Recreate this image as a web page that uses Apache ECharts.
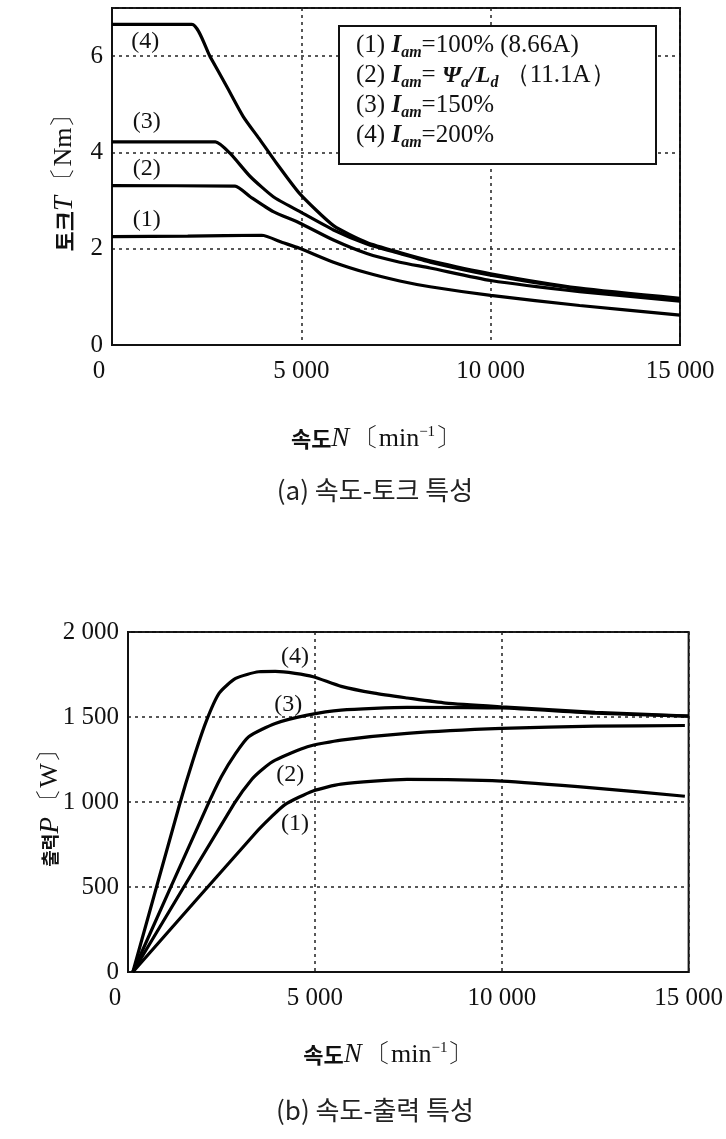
<!DOCTYPE html>
<html>
<head>
<meta charset="utf-8">
<script src="https://cdn.jsdelivr.net/npm/echarts@6/dist/echarts.min.js"></script>
<style>
html, body { margin: 0; padding: 0; background: #fff; }
#chart { width: 726px; height: 1139px; }
</style>
</head>
<body>
<div id="chart"></div>
<script>
// axis ranges
const speedMax = 15000
const speedStep = 5000
const torqueMax = 7
const torqueStep = 2
const powerMax = 2000
const powerStep = 500

const curveNames = ['(1)', '(2)', '(3)', '(4)']

// (a) speed [min^-1] vs torque [Nm]
const torque1 = [[0, 2.25], [2000, 2.26], [3950, 2.28], [4500, 2.13], [4950, 2.01], [5850, 1.72], [6730, 1.50], [7600, 1.33], [8400, 1.21], [10000, 1.03], [12350, 0.82], [15000, 0.62]]
const torque2 = [[0, 3.31], [3250, 3.30], [3650, 3.08], [4260, 2.77], [4940, 2.54], [5850, 2.18], [6730, 1.90], [7600, 1.72], [8400, 1.60], [10000, 1.34], [12350, 1.11], [15000, 0.91]]
const torque3 = [[0, 4.22], [2730, 4.22], [3120, 3.98], [3650, 3.50], [4260, 3.08], [4940, 2.78], [5850, 2.39], [6730, 2.10], [7600, 1.90], [8400, 1.72], [10000, 1.45], [12350, 1.16], [15000, 0.93]]
const torque4 = [[0, 6.66], [2110, 6.66], [2590, 5.99], [3030, 5.37], [3470, 4.74], [3910, 4.26], [4350, 3.77], [4950, 3.15], [5850, 2.48], [6730, 2.13], [7600, 1.92], [8400, 1.75], [10000, 1.48], [12350, 1.18], [15000, 0.97]]

// (b) speed [min^-1] vs power [W]
const power1 = [[130, 0], [3400, 815], [3800, 905], [4200, 985], [4950, 1065], [5700, 1105], [7470, 1133], [10000, 1123], [12500, 1082], [14900, 1034]]
const power2 = [[130, 0], [2840, 990], [3320, 1135], [3640, 1200], [3940, 1246], [4800, 1325], [5700, 1364], [7470, 1404], [10000, 1433], [12500, 1446], [14900, 1450]]
const power3 = [[130, 0], [2085, 960], [2500, 1150], [2880, 1286], [3230, 1384], [3940, 1462], [4800, 1511], [5700, 1541], [7470, 1557], [10000, 1553], [12500, 1522], [15000, 1505]]
const power4 = [[130, 0], [1380, 985], [1730, 1240], [2085, 1470], [2440, 1640], [2880, 1727], [3500, 1766], [3940, 1768], [4470, 1757], [4956, 1737], [5706, 1680], [6590, 1640], [7470, 1612], [8500, 1582], [10000, 1560], [12500, 1528], [15000, 1505]]

const legendLines = [
  '{n|(1) }{i|I}{s|am}{n|=100% (8.66A)}',
  '{n|(2) }{i|I}{s|am}{n|= }{g|Ψ}{s|a}{g|/L}{s|d}{n| （11.1A）}',
  '{n|(3) }{i|I}{s|am}{n|=150%}',
  '{n|(4) }{i|I}{s|am}{n|=200%}',
]

const serif = 'Liberation Serif'
const kr = 'Noto Sans CJK KR'
const ink = '#111'

function thousands(v) {
  if (v === 0) return '{z|0}'
  const s = String(v)
  return s.length > 3 ? s.slice(0, -3) + ' ' + s.slice(-3) : s
}

const gridLine = { show: true, lineStyle: { color: '#222', width: 1.5, type: [3, 4] } }
const tickFont = { fontFamily: serif, fontSize: 25, color: ink }

function xAxisFor(gridIndex, gap) {
  return {
    type: 'value', gridIndex, min: 0, max: speedMax, interval: speedStep,
    axisLine: { show: true, lineStyle: { color: ink, width: 2 } },
    axisTick: { show: false },
    splitLine: gridLine,
    axisLabel: {
      ...tickFont, margin: 14, formatter: thousands,
      rich: { z: { padding: [0, 26, 0, 0] } },
    },
    name: '{k|속도}{i|N} {u|〔min}{p|−1}{u|〕}',
    nameLocation: 'middle',
    nameGap: gap,
    nameMoveOverlap: false,
    nameTextStyle: {
      padding: [0, 40, 0, 0],
      rich: {
        k: { fontFamily: kr, fontSize: 22, fontWeight: 'bold', color: ink },
        i: { fontFamily: serif, fontSize: 27, fontStyle: 'italic', color: ink },
        u: { fontFamily: serif, fontSize: 26, color: ink },
        p: { fontFamily: serif, fontSize: 15, color: ink, verticalAlign: 'top', lineHeight: 28 },
      },
    },
  }
}

function lineSeries(data, xi, yi) {
  return {
    type: 'line', xAxisIndex: xi, yAxisIndex: yi, data,
    showSymbol: false, smooth: 0.2,
    lineStyle: { color: '#000', width: 3.2 },
    silent: true,
  }
}

function tag(text, coord) {
  return {
    coord, value: text,
    label: { show: true, formatter: text, fontFamily: serif, fontSize: 24, color: ink },
  }
}

const markStyle = { symbol: 'circle', symbolSize: 1, itemStyle: { color: 'rgba(0,0,0,0)' }, silent: true }

const option = {
  animation: false,
  backgroundColor: '#fff',
  grid: [
    { left: 112, right: 46, top: 8, bottom: 794, show: true, borderColor: ink, borderWidth: 2 },
    { left: 128, right: 32, top: 632, bottom: 167, show: true, borderColor: ink, borderWidth: 2 },
  ],
  xAxis: [xAxisFor(0, 80), xAxisFor(1, 69)],
  yAxis: [
    {
      type: 'value', gridIndex: 0, min: 0, max: torqueMax, interval: torqueStep,
      axisLine: { show: true, lineStyle: { color: ink, width: 2 } },
      axisTick: { show: false },
      splitLine: gridLine,
      axisLabel: { ...tickFont, margin: 9, showMaxLabel: false },
      name: '{k|토크}{i|T} {u|〔Nm〕}',
      nameLocation: 'middle', nameRotate: 90, nameGap: 34,
      nameMoveOverlap: false,
      nameTextStyle: {
        rich: {
          k: { fontFamily: kr, fontSize: 22, fontWeight: 'bold', color: ink },
          i: { fontFamily: serif, fontSize: 27, fontStyle: 'italic', color: ink },
          u: { fontFamily: serif, fontSize: 26, color: ink },
        },
      },
    },
    {
      type: 'value', gridIndex: 1, min: 0, max: powerMax, interval: powerStep,
      axisLine: { show: true, lineStyle: { color: ink, width: 2 } },
      axisTick: { show: false },
      splitLine: gridLine,
      axisLabel: { ...tickFont, margin: 9, formatter: (v) => thousands(v).replace('{z|0}', '0') },
      name: '{k|출력}{i|P} {u|〔W〕}',
      nameLocation: 'middle', nameRotate: 90, nameGap: 64,
      nameMoveOverlap: false,
      nameTextStyle: {
        rich: {
          k: { fontFamily: kr, fontSize: 18, fontWeight: 'bold', color: ink },
          i: { fontFamily: serif, fontSize: 27, fontStyle: 'italic', color: ink },
          u: { fontFamily: serif, fontSize: 26, color: ink },
        },
      },
    },
  ],
  series: [
    { ...lineSeries(torque1, 0, 0), markPoint: { ...markStyle, data: [tag(curveNames[0], [920, 2.6])] } },
    { ...lineSeries(torque2, 0, 0), markPoint: { ...markStyle, data: [tag(curveNames[1], [920, 3.67])] } },
    { ...lineSeries(torque3, 0, 0), markPoint: { ...markStyle, data: [tag(curveNames[2], [920, 4.64])] } },
    { ...lineSeries(torque4, 0, 0), markPoint: { ...markStyle, data: [tag(curveNames[3], [880, 6.3])] } },
    { ...lineSeries(power1, 1, 1), markPoint: { ...markStyle, data: [tag(curveNames[0], [4470, 874])] } },
    { ...lineSeries(power2, 1, 1), markPoint: { ...markStyle, data: [tag(curveNames[1], [4340, 1158])] } },
    { ...lineSeries(power3, 1, 1), markPoint: { ...markStyle, data: [tag(curveNames[2], [4290, 1570])] } },
    { ...lineSeries(power4, 1, 1), markPoint: { ...markStyle, data: [tag(curveNames[3], [4470, 1855])] } },
  ],
  graphic: [
    {
      type: 'rect', left: 338, top: 25, z: 10,
      shape: { width: 317, height: 138 },
      style: { fill: '#fff', stroke: ink, lineWidth: 2 },
    },
    {
      type: 'text', left: 356, top: 33, z: 11,
      style: {
        text: legendLines.join('\n'),
        rich: {
          n: { fontFamily: serif, fontSize: 25, fill: ink, lineHeight: 30 },
          i: { fontFamily: serif, fontSize: 25, fontStyle: 'italic', fontWeight: 'bold', fill: ink, lineHeight: 30 },
          g: { fontFamily: serif, fontSize: 24, fontStyle: 'italic', fontWeight: 'bold', fill: ink, lineHeight: 30 },
          s: { fontFamily: serif, fontSize: 16, fontStyle: 'italic', fontWeight: 'bold', fill: ink, lineHeight: 18, verticalAlign: 'bottom' },
        },
      },
    },
    {
      type: 'text', x: 375, y: 490,
      style: { text: '(a) 속도-토크 특성', fontFamily: kr, fontSize: 26, fill: '#222', align: 'center', verticalAlign: 'middle' },
    },
    {
      type: 'text', x: 375, y: 1110,
      style: { text: '(b) 속도-출력 특성', fontFamily: kr, fontSize: 26, fill: '#222', align: 'center', verticalAlign: 'middle' },
    },
  ],
}

const chart = echarts.init(document.getElementById('chart'), null, { renderer: 'canvas' })
chart.setOption(option)
window.addEventListener('resize', () => chart.resize())
</script>
</body>
</html>
